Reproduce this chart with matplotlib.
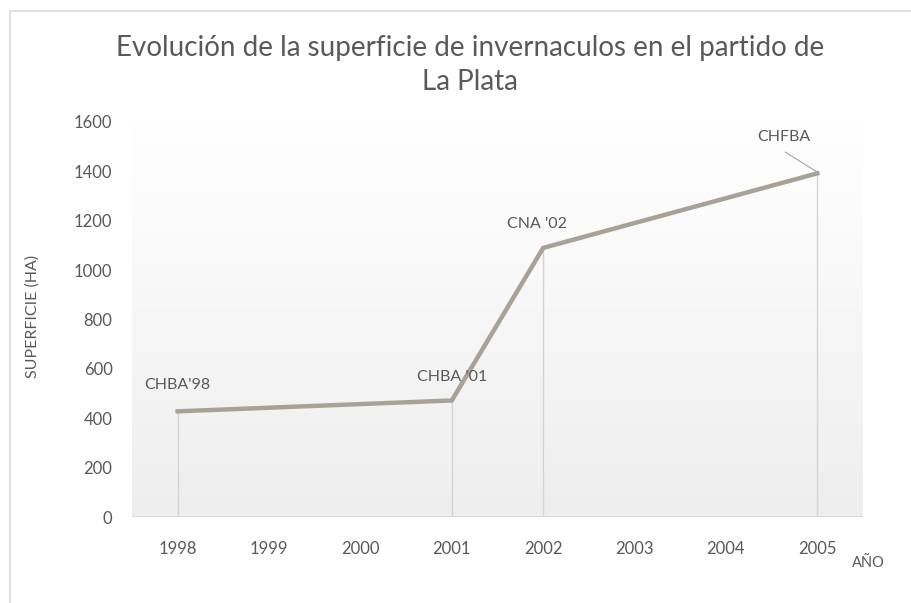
import numpy as np
import matplotlib.pyplot as plt
from matplotlib.colors import LinearSegmentedColormap
from matplotlib.patches import Rectangle

# data
years = ['1998', '1999', '2000', '2001', '2002', '2003', '2004', '2005']
point_years = [0, 3, 4, 7]
surface = [428, 472, 1090, 1392]
point_labels = ["CHBA'98", "CHBA '01", "CNA '02", "CHFBA"]
y_ticks = [0, 200, 400, 600, 800, 1000, 1200, 1400, 1600]

text_color = '#595959'
plt.rcParams['font.family'] = ['Lato', 'DejaVu Sans']

fig = plt.figure(figsize=(9.12, 6.03), dpi=100)
ax = fig.add_axes([132 / 912, 86 / 603, 731 / 912, 395 / 603])

# chart border
fig.patches.append(Rectangle((10 / 912, -0.05), 1.2, (603 - 11) / 603 + 0.05,
                             transform=fig.transFigure, fill=False,
                             edgecolor='#d9d9d9', linewidth=1.2))

# plot area gradient, white at top to light gray at the bottom
grad = np.linspace(0, 1, 256).reshape(-1, 1)
ax.imshow(grad, extent=[-0.5, 7.5, 0, 1600], aspect='auto', origin='upper',
          cmap=LinearSegmentedColormap.from_list('g', ['#ffffff', '#eeeeee']),
          zorder=0)

# drop lines
ax.vlines(point_years, 0, surface, color='#d4d4d4', linewidth=1, zorder=1)
ax.axhline(0, color='#d9d9d9', linewidth=1.5, zorder=1)

ax.plot(point_years, surface, color='#a8a196', linewidth=3.2,
        solid_joinstyle='miter', zorder=3)

# point labels
label_pos = [(0, surface[0] + 107), (3, surface[1] + 95),
             (3.93, surface[2] + 97), (6.63, surface[3] + 147)]
for (lx, ly), lab in zip(label_pos, point_labels):
    ax.text(lx, ly, lab, ha='center', va='center', fontsize=11.5, color=text_color)
ax.plot([6.65, 7], [surface[3] + 86, surface[3] + 5], color='#a6a6a6', linewidth=0.8)

ax.set_xlim(-0.5, 7.5)
ax.set_ylim(0, 1600)
ax.set_xticks(range(len(years)))
ax.set_xticklabels(years)
ax.set_yticks(y_ticks)
ax.tick_params(length=0, labelsize=12, colors=text_color)
ax.tick_params(axis='x', pad=17)
ax.tick_params(axis='y', pad=14)
for s in ax.spines.values():
    s.set_visible(False)

fig.text(33 / 912, 1 - 316 / 603, 'SUPERFICIE (HA)', rotation=90, ha='center', va='center',
         fontsize=11.5, color=text_color)
fig.text(868 / 912, 1 - 563 / 603, 'AÑO', ha='center', va='center', fontsize=10.5, color=text_color)
fig.text(470 / 912, 1 - 65 / 603, 'Evolución de la superficie de invernaculos en el partido de\nLa Plata',
         ha='center', va='center', fontsize=20, color=text_color,
         linespacing=1.35)

fig.savefig('out.png', dpi=100)
